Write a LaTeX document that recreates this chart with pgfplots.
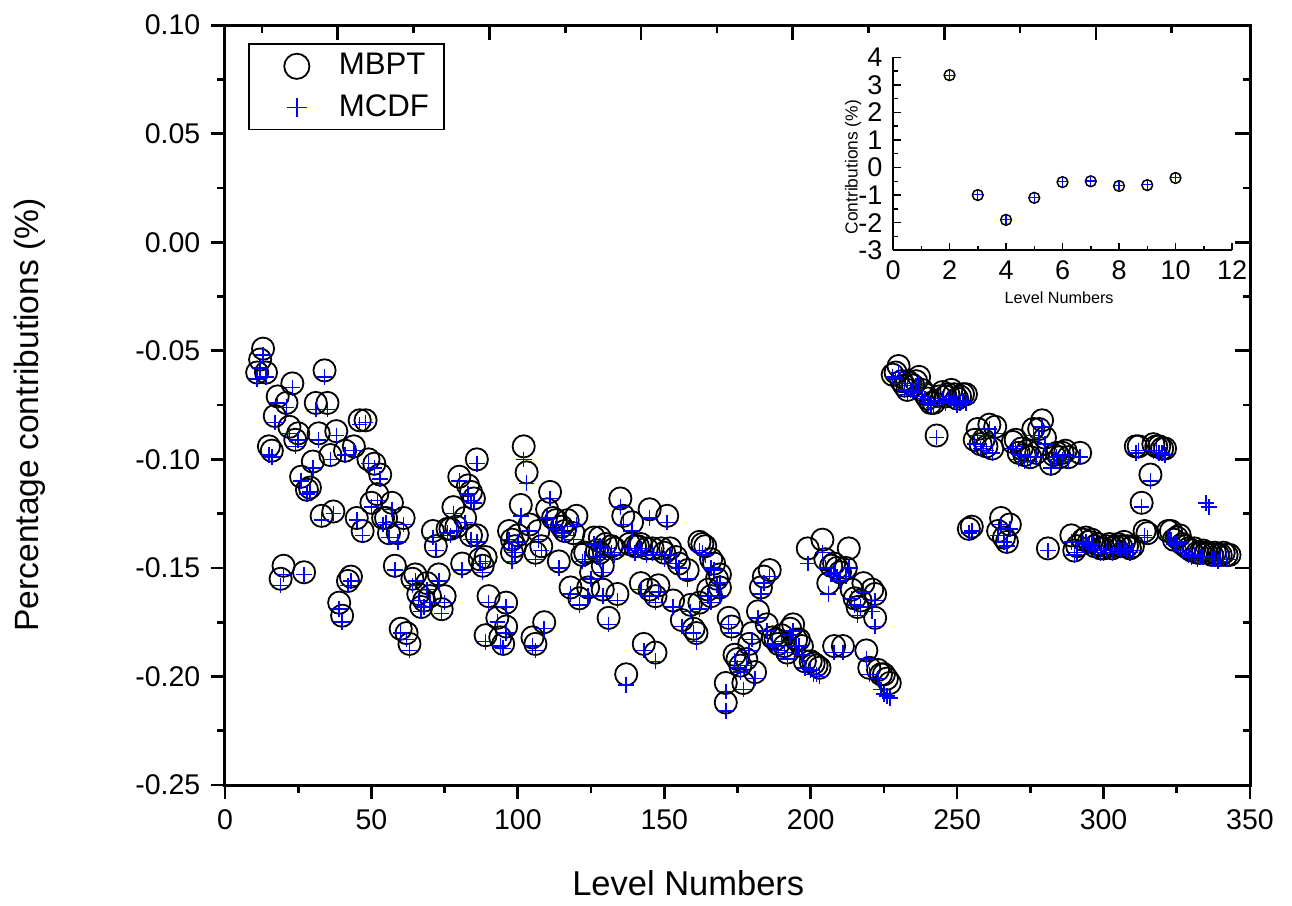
\documentclass[border=0pt]{standalone}
\usepackage{fontspec}
\setmainfont{Liberation Sans}
\usepackage{pgfplots}
\usepackage{pgfplotstable}
\pgfplotsset{compat=1.18}

% level, MBPT, MCDF (percentage contributions)
\pgfplotstableread{
lev mbpt mcdf
11 -0.060 -0.063
12 -0.054 -0.058
13 -0.049 -0.052
14 -0.060 -0.062
15 -0.094 -0.098
16 -0.096 -0.099
17 -0.080 -0.083
18 -0.071 -0.074
19 -0.155 -0.158
20 -0.149 -0.153
21 -0.074 -0.076
22 -0.085 -0.088
23 -0.065 -0.067
24 -0.091 -0.094
25 -0.088 -0.091
26 -0.108 -0.110
27 -0.152 -0.153
28 -0.114 -0.116
29 -0.113 -0.115
30 -0.101 -0.104
31 -0.074 -0.077
32 -0.088 -0.091
33 -0.126 -0.128
34 -0.059 -0.062
35 -0.074 -0.077
36 -0.098 -0.100
37 -0.124 -0.125
38 -0.087 -0.089
39 -0.166 -0.169
40 -0.172 -0.175
41 -0.096 -0.098
42 -0.156 -0.158
43 -0.154 -0.156
44 -0.094 -0.096
45 -0.127 -0.128
46 -0.082 -0.084
47 -0.133 -0.135
48 -0.082 -0.083
49 -0.100 -0.102
50 -0.120 -0.122
51 -0.102 -0.104
52 -0.116 -0.119
53 -0.107 -0.109
54 -0.127 -0.130
55 -0.127 -0.129
56 -0.134 -0.136
57 -0.120 -0.123
58 -0.149 -0.151
59 -0.134 -0.138
60 -0.178 -0.180
61 -0.127 -0.130
62 -0.180 -0.183
63 -0.185 -0.188
64 -0.155 -0.158
65 -0.153 -0.156
66 -0.162 -0.165
67 -0.168 -0.170
68 -0.165 -0.168
69 -0.157 -0.160
70 -0.163 -0.166
71 -0.133 -0.136
72 -0.140 -0.142
73 -0.153 -0.156
74 -0.169 -0.171
75 -0.163 -0.166
76 -0.132 -0.134
77 -0.132 -0.135
78 -0.122 -0.125
79 -0.131 -0.133
80 -0.108 -0.110
81 -0.148 -0.151
82 -0.127 -0.129
83 -0.112 -0.116
84 -0.115 -0.119
84 -0.135 -0.137
85 -0.118 -0.120
86 -0.100 -0.102
86 -0.135 -0.138
87 -0.146 -0.148
88 -0.149 -0.152
89 -0.145 -0.147
89 -0.181 -0.184
90 -0.163 -0.166
93 -0.173 -0.175
94 -0.182 -0.186
95 -0.185 -0.187
96 -0.177 -0.180
96 -0.166 -0.168
97 -0.133 -0.137
98 -0.137 -0.141
98 -0.143 -0.147
99 -0.140 -0.143
100 -0.135 -0.138
101 -0.121 -0.126
102 -0.094 -0.100
103 -0.106 -0.111
104 -0.130 -0.133
105 -0.182 -0.186
106 -0.185 -0.188
106 -0.143 -0.146
107 -0.133 -0.137
108 -0.140 -0.142
109 -0.175 -0.178
110 -0.123 -0.127
111 -0.115 -0.118
112 -0.127 -0.130
113 -0.128 -0.132
114 -0.147 -0.150
115 -0.131 -0.134
116 -0.133 -0.135
117 -0.128 -0.131
118 -0.159 -0.162
119 -0.134 -0.137
120 -0.126 -0.130
121 -0.164 -0.167
122 -0.144 -0.147
123 -0.143 -0.146
124 -0.159 -0.163
125 -0.152 -0.155
126 -0.136 -0.139
127 -0.142 -0.145
128 -0.143 -0.146
128 -0.136 -0.140
129 -0.149 -0.152
129 -0.160 -0.163
130 -0.139 -0.141
131 -0.173 -0.176
132 -0.140 -0.143
133 -0.141 -0.144
134 -0.162 -0.165
135 -0.118 -0.122
136 -0.126 -0.130
137 -0.199 -0.204
138 -0.139 -0.141
139 -0.129 -0.133
140 -0.140 -0.143
141 -0.140 -0.142
142 -0.139 -0.141
142 -0.157 -0.160
143 -0.185 -0.188
144 -0.141 -0.144
145 -0.123 -0.127
145 -0.160 -0.163
146 -0.141 -0.143
147 -0.163 -0.166
147 -0.189 -0.193
148 -0.158 -0.161
149 -0.141 -0.144
150 -0.143 -0.146
151 -0.126 -0.129
152 -0.141 -0.144
153 -0.165 -0.168
154 -0.145 -0.148
155 -0.148 -0.150
156 -0.174 -0.177
158 -0.151 -0.155
159 -0.167 -0.170
160 -0.178 -0.180
161 -0.180 -0.184
162 -0.138 -0.142
162 -0.166 -0.169
163 -0.139 -0.143
164 -0.140 -0.144
165 -0.160 -0.163
166 -0.146 -0.150
166 -0.163 -0.166
167 -0.148 -0.151
168 -0.155 -0.158
169 -0.153 -0.157
169 -0.159 -0.163
171 -0.212 -0.216
171 -0.203 -0.207
172 -0.173 -0.176
173 -0.177 -0.180
174 -0.190 -0.193
175 -0.192 -0.196
176 -0.195 -0.198
177 -0.203 -0.206
178 -0.192 -0.195
179 -0.185 -0.188
180 -0.180 -0.183
181 -0.198 -0.201
182 -0.170 -0.173
183 -0.159 -0.162
184 -0.154 -0.157
185 -0.176 -0.179
186 -0.151 -0.154
187 -0.182 -0.185
188 -0.183 -0.186
189 -0.185 -0.188
190 -0.181 -0.184
191 -0.186 -0.189
192 -0.189 -0.192
193 -0.178 -0.181
194 -0.176 -0.179
195 -0.183 -0.186
196 -0.183 -0.186
197 -0.186 -0.190
198 -0.193 -0.196
199 -0.141 -0.148
200 -0.193 -0.197
201 -0.194 -0.199
202 -0.195 -0.199
203 -0.196 -0.200
204 -0.137 -0.143
205 -0.146 -0.150
206 -0.157 -0.162
207 -0.149 -0.153
208 -0.148 -0.152
208 -0.186 -0.189
209 -0.150 -0.154
210 -0.152 -0.156
211 -0.186 -0.189
212 -0.150 -0.154
213 -0.141 -0.150
214 -0.160 -0.164
215 -0.164 -0.167
216 -0.168 -0.172
217 -0.165 -0.168
218 -0.157 -0.161
219 -0.188 -0.192
220 -0.196 -0.199
221 -0.160 -0.170
222 -0.162 -0.165
222 -0.173 -0.177
223 -0.197 -0.201
224 -0.199 -0.206
225 -0.199 -0.208
226 -0.201 -0.209
227 -0.203 -0.210
228 -0.061 -0.062
229 -0.060 -0.063
230 -0.057 -0.060
231 -0.064 -0.065
232 -0.066 -0.068
233 -0.064 -0.066
233 -0.068 -0.070
234 -0.065 -0.068
235 -0.066 -0.069
236 -0.064 -0.066
237 -0.062 -0.065
238 -0.068 -0.071
239 -0.070 -0.072
240 -0.072 -0.074
241 -0.074 -0.075
242 -0.074 -0.076
243 -0.089 -0.090
244 -0.071 -0.073
245 -0.069 -0.072
246 -0.071 -0.074
247 -0.070 -0.072
248 -0.068 -0.071
249 -0.070 -0.073
250 -0.072 -0.075
251 -0.071 -0.074
252 -0.070 -0.073
253 -0.070 -0.074
254 -0.132 -0.134
255 -0.131 -0.133
256 -0.091 -0.093
257 -0.086 -0.089
258 -0.093 -0.095
259 -0.091 -0.094
260 -0.094 -0.096
261 -0.084 -0.086
262 -0.095 -0.097
263 -0.085 -0.088
264 -0.133 -0.135
265 -0.127 -0.130
266 -0.136 -0.138
267 -0.138 -0.140
268 -0.130 -0.132
269 -0.092 -0.095
270 -0.091 -0.094
271 -0.097 -0.100
272 -0.095 -0.098
273 -0.098 -0.101
274 -0.096 -0.099
275 -0.099 -0.101
276 -0.086 -0.089
277 -0.097 -0.099
278 -0.086 -0.090
279 -0.082 -0.085
280 -0.090 -0.093
281 -0.141 -0.142
282 -0.102 -0.104
283 -0.098 -0.100
284 -0.097 -0.099
285 -0.099 -0.101
286 -0.097 -0.100
287 -0.096 -0.098
288 -0.099 -0.101
289 -0.135 -0.138
290 -0.142 -0.144
291 -0.140 -0.143
292 -0.097 -0.099
293 -0.137 -0.139
294 -0.136 -0.138
295 -0.138 -0.140
296 -0.137 -0.139
297 -0.140 -0.142
298 -0.139 -0.141
299 -0.141 -0.143
300 -0.141 -0.143
301 -0.140 -0.142
302 -0.139 -0.142
303 -0.141 -0.143
304 -0.140 -0.142
305 -0.139 -0.141
306 -0.140 -0.142
307 -0.138 -0.141
308 -0.140 -0.142
309 -0.141 -0.143
310 -0.140 -0.142
311 -0.094 -0.097
312 -0.094 -0.096
313 -0.120 -0.122
314 -0.133 -0.135
315 -0.134 -0.136
316 -0.107 -0.110
317 -0.093 -0.096
318 -0.094 -0.096
319 -0.094 -0.097
320 -0.095 -0.097
321 -0.095 -0.098
322 -0.133 -0.136
323 -0.133 -0.137
324 -0.137 -0.139
325 -0.136 -0.139
326 -0.135 -0.138
327 -0.139 -0.142
328 -0.140 -0.143
329 -0.141 -0.144
330 -0.142 -0.145
331 -0.141 -0.144
332 -0.143 -0.146
333 -0.143 -0.145
334 -0.142 -0.145
335 -0.143 -0.120
336 -0.143 -0.122
337 -0.144 -0.146
338 -0.143 -0.146
339 -0.144 -0.147
340 -0.144 -0.146
341 -0.143 -0.146
342 -0.144 -0.146
343 -0.144 -0.146
}\levels

\begin{document}
\begin{tikzpicture}
  % main panel: bottom/left ticks point outwards
  \begin{axis}[
    scale only axis,
    width=341.7pt, height=253.3pt,
    xmin=0, xmax=350, ymin=-0.25, ymax=0.10,
    xtick={0,50,...,350},
    ytick={-0.25,-0.2,-0.15,-0.1,-0.05,0,0.05,0.1},
    minor x tick num=1, minor y tick num=1,
    xtick pos=bottom, ytick pos=left,
    tick align=outside,
    major tick length=4.7pt, minor tick length=2.5pt,
    every tick/.style={black, line width=0.9pt},
    axis line style={line width=1pt},
    /pgf/number format/assume math mode=true,
    tick label style={font=\fontsize{9.5}{11}\selectfont},
    yticklabel style={/pgf/number format/.cd, fixed, fixed zerofill, precision=2},
    xlabel={Level Numbers},
    ylabel={Percentage contributions (\%)},
    xlabel style={font=\fontsize{11.5}{13}\selectfont,
      at={(axis description cs:0.452,-0.129)}, anchor=center},
    ylabel style={font=\fontsize{11.2}{13}\selectfont,
      at={(axis description cs:-0.190,0.487)}, anchor=center},
    legend style={at={(axis description cs:0.0224,0.976)}, anchor=north west,
      draw=black, line width=0.6pt, font=\fontsize{10.4}{12}\selectfont,
      inner xsep=3pt, inner ysep=1pt, row sep=1pt},
    legend cell align=left,
  ]
    \addplot[only marks, mark=o, mark size=3.7pt,
      mark options={black, line width=0.6pt},
      legend image code/.code={
        \path[draw=none, fill=none] (0pt,0pt) rectangle (25pt,0.1pt);
        \draw[black, line width=0.6pt] (13pt,0pt) circle (4.2pt);}]
      table[x=lev, y=mbpt] {\levels};
    \addlegendentry{MBPT}
    \addplot[only marks, mark=+, mark size=2.6pt, blue,
      mark options={line width=0.5pt},
      legend image code/.code={
        \path[draw=none, fill=none] (0pt,0pt) rectangle (25pt,0.1pt);
        \draw[draw=blue, line width=0.5pt] (13pt,-3.3pt) -- (13pt,3.3pt);
        \draw[draw=blue, line width=0.5pt] (9.7pt,0pt) -- (16.3pt,0pt);}]
      table[x=lev, y=mcdf] {\levels};
    \addlegendentry{MCDF}
  \end{axis}

  % top/right ticks point inwards (top scale is offset as in the original)
  \begin{axis}[
    scale only axis,
    width=341.7pt, height=253.3pt,
    xmin=0, xmax=350, ymin=-0.25, ymax=0.10,
    xtick={38.5,90.3,142.1,193.8,245.6,297.4},
    minor xtick={12.6,64.4,116.2,168.0,219.7,271.5,323.3},
    ytick={-0.25,-0.2,-0.15,-0.1,-0.05,0,0.05,0.1},
    minor y tick num=1,
    xtick pos=top, ytick pos=right,
    tick align=inside,
    xticklabels={}, yticklabels={},
    major tick length=5pt, minor tick length=2.5pt,
    every tick/.style={black, line width=0.9pt},
    axis line style={line width=1pt},
  ]
  \end{axis}

  % inset: levels 2-10
  \begin{axis}[
    scale only axis,
    width=113pt, height=64.3pt,
    at={(222.7pt,178.3pt)}, anchor=south west,
    xmin=0, xmax=12, ymin=-3, ymax=4,
    axis x line*=bottom, axis y line*=left,
    axis line style={-, line width=0.5pt},
    xtick={0,2,...,12}, minor x tick num=1,
    ytick={-3,-2,...,4}, minor y tick num=1,
    tick align=inside,
    major tick length=2.5pt, minor tick length=1.5pt,
    every tick/.style={black, line width=0.5pt},
    /pgf/number format/assume math mode=true,
    tick label style={font=\fontsize{9}{10}\selectfont},
    xlabel={Level Numbers},
    ylabel={Contributions (\%)},
    xlabel style={font=\fontsize{5.4}{6}\selectfont,
      at={(axis description cs:0.49,-0.249)}, anchor=center},
    ylabel style={font=\fontsize{5.8}{7}\selectfont,
      at={(axis description cs:-0.118,0.43)}, anchor=center},
  ]
    \addplot[only marks, mark=o, mark size=1.8pt,
      mark options={black, fill=white, line width=0.5pt}]
      coordinates {(2,3.35) (3,-1.00) (4,-1.90) (5,-1.10) (6,-0.53) (7,-0.50) (8,-0.67) (9,-0.64) (10,-0.38)};
    \addplot[only marks, mark=+, mark size=1.6pt, blue,
      mark options={line width=0.4pt}]
      coordinates {(2,3.34) (3,-0.99) (4,-1.89) (5,-1.09) (6,-0.52) (7,-0.49) (8,-0.66) (9,-0.63) (10,-0.37)};
  \end{axis}

  \pgfresetboundingbox
  \path (-75pt,-40pt) rectangle (355.7pt,261.7pt);
\end{tikzpicture}
\end{document}
